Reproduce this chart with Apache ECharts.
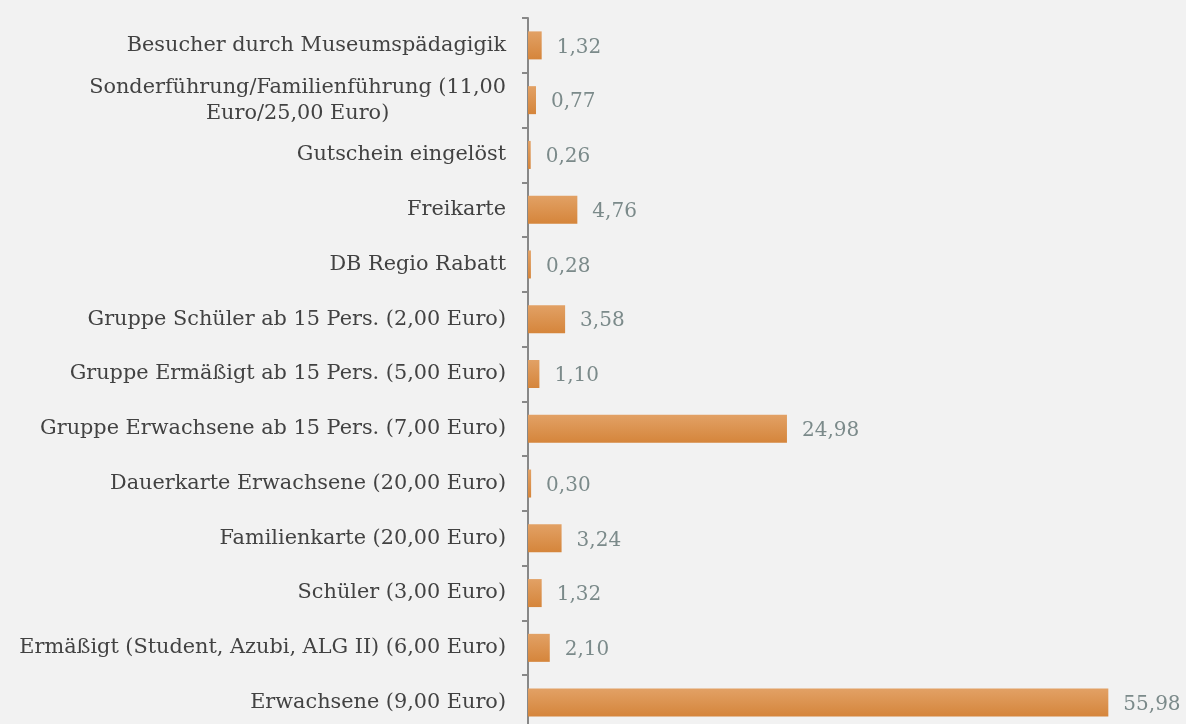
<!DOCTYPE html>
<html>
<head>
<meta charset="utf-8">
<script src="https://cdn.jsdelivr.net/npm/echarts@6/dist/echarts.min.js"></script>
<style>
  html, body { margin: 0; padding: 0; background: #f2f2f2; overflow: hidden; }
  #main { width: 1186px; height: 730px; }
</style>
</head>
<body>
<div id="main"></div>
<script>
// Kategorien von oben nach unten
var categories = [
    'Besucher durch Museumspädagigik',
    'Sonderführung/Familienführung (11,00\nEuro/25,00 Euro)',
    'Gutschein eingelöst',
    'Freikarte',
    'DB Regio Rabatt',
    'Gruppe Schüler ab 15 Pers. (2,00 Euro)',
    'Gruppe Ermäßigt ab 15 Pers. (5,00 Euro)',
    'Gruppe Erwachsene ab 15 Pers. (7,00 Euro)',
    'Dauerkarte Erwachsene (20,00 Euro)',
    'Familienkarte (20,00 Euro)',
    'Schüler (3,00 Euro)',
    'Ermäßigt (Student, Azubi, ALG II) (6,00 Euro)',
    'Erwachsene (9,00 Euro)'
];
var values = [1.32, 0.77, 0.26, 4.76, 0.28, 3.58, 1.10, 24.98, 0.30, 3.24, 1.32, 2.10, 55.98];

var fontFamily = '"DejaVu Serif", "Liberation Serif", serif';

var chart = echarts.init(document.getElementById('main'));

chart.setOption({
    backgroundColor: '#f2f2f2',
    animation: false,
    grid: { left: 528, right: 36, top: 18, bottom: 0 },
    xAxis: {
        type: 'value',
        min: 0,
        max: 60,
        show: false
    },
    yAxis: {
        type: 'category',
        inverse: true,
        data: categories,
        axisLine: { show: true, lineStyle: { color: '#888888', width: 2 } },
        axisTick: { show: true, length: 6, lineStyle: { color: '#888888', width: 2 } },
        splitLine: { show: false },
        axisLabel: {
            margin: 22,
            color: '#424242',
            fontFamily: fontFamily,
            fontSize: 20.8,
            lineHeight: 26,
            formatter: function (val) {
                // mehrzeilige Beschriftung zentriert
                if (val.indexOf('\n') >= 0) {
                    return val.split('\n').map(function (l) { return '{c|' + l + '}'; }).join('\n');
                }
                return val;
            },
            rich: {
                c: {
                    align: 'center',
                    color: '#424242',
                    fontFamily: fontFamily,
                    fontSize: 20.8,
                    lineHeight: 26
                }
            }
        }
    },
    series: [{
        type: 'bar',
        data: values,
        barWidth: 28,
        itemStyle: {
            color: new echarts.graphic.LinearGradient(0, 0, 0, 1, [
                { offset: 0, color: '#e2a165' },
                { offset: 1, color: '#d5853b' }
            ])
        },
        label: {
            show: true,
            position: 'right',
            distance: 15,
            offset: [0, 2],
            color: '#7b8a8a',
            fontFamily: fontFamily,
            fontSize: 20,
            formatter: function (p) {
                return p.value.toFixed(2).replace('.', ',');
            }
        }
    }]
});
</script>
</body>
</html>
